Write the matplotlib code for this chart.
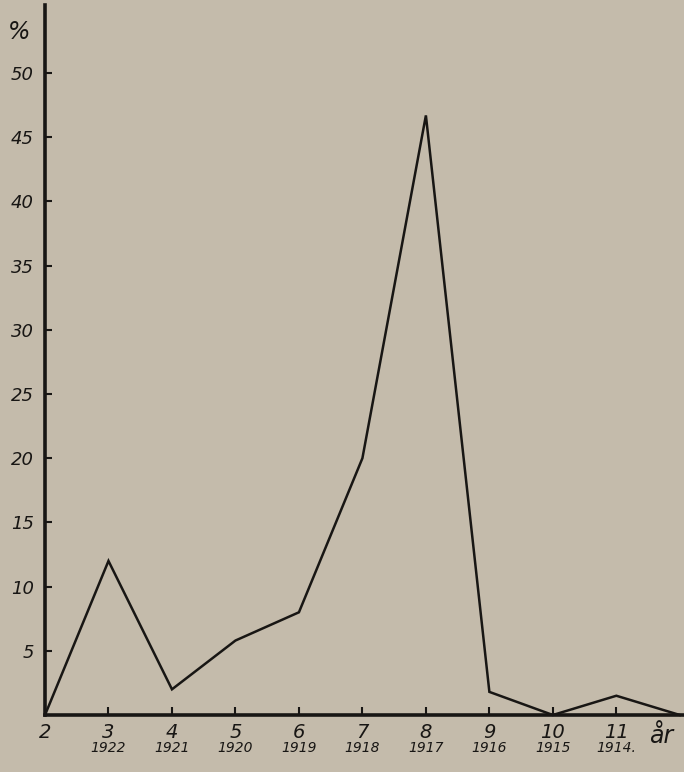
import matplotlib
matplotlib.use("Agg")
import matplotlib.pyplot as plt

# alder (år) og andel i procent
ages = [2, 3, 4, 5, 6, 7, 8, 9, 10, 11, 12]
percent = [0, 12, 2, 5.8, 8, 20, 46.7, 1.8, 0, 1.5, 0]
tick_ages = [2, 3, 4, 5, 6, 7, 8, 9, 10, 11]
years = ["", "1922", "1921", "1920", "1919", "1918", "1917", "1916", "1915", "1914."]
yticks = [5, 10, 15, 20, 25, 30, 35, 40, 45, 50]

bg = "#c4bbab"
ink = "#181614"

fig = plt.figure(figsize=(6.84, 7.72), dpi=100, facecolor=bg)
ax = fig.add_axes([45 / 684, 57 / 772, 638 / 684, 710 / 772])
ax.set_facecolor(bg)

ax.plot(ages, percent, color=ink, lw=1.8, solid_joinstyle="miter", clip_on=False)

ax.set_xlim(2, 12.05)
ax.set_ylim(0, 55.3)

for s in ["top", "right"]:
    ax.spines[s].set_visible(False)
for s in ["left", "bottom"]:
    ax.spines[s].set_linewidth(2.6)
    ax.spines[s].set_color(ink)

ax.set_yticks(yticks)
ax.set_yticklabels([str(v) for v in yticks], fontsize=13, style="italic", color=ink)
ax.set_xticks(tick_ages)
ax.set_xticklabels([str(v) for v in tick_ages], fontsize=14, style="italic", color=ink)
ax.tick_params(axis="y", direction="in", length=5, width=1.5, color=ink, pad=8)
ax.tick_params(axis="x", direction="in", length=6, width=1.5, color=ink, pad=6)

for a, yr in zip(tick_ages, years):
    ax.text(a, -0.036, yr, transform=ax.get_xaxis_transform(), ha="center", va="top",
            fontsize=10, style="italic", color=ink)

ax.text(11.7, -0.012, "år", transform=ax.get_xaxis_transform(), ha="center", va="top",
        fontsize=17, style="italic", color=ink)
ax.text(-0.04, 0.962, "%", transform=ax.transAxes, ha="center", va="center",
        fontsize=17, style="italic", color=ink)

fig.savefig("out.png", dpi=100, facecolor=bg)
